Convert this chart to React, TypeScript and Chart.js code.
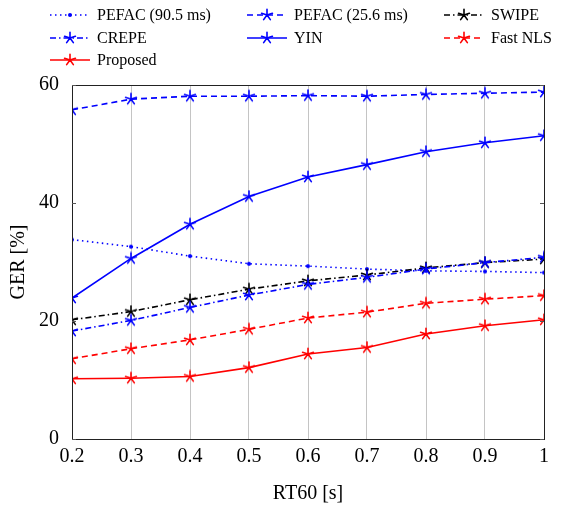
import React, { useEffect, useRef } from "react";
import { Chart, registerables } from "chart.js";

Chart.register(...registerables);

// Reverberation time (s) on the x axis
const rt60 = [0.2, 0.3, 0.4, 0.5, 0.6, 0.7, 0.8, 0.9, 1.0];

// Gross error rate (%) per method
const pefac905 = [33.8, 32.6, 31.0, 29.7, 29.3, 28.8, 28.5, 28.4, 28.2];
const pefac256 = [55.8, 57.6, 58.1, 58.1, 58.2, 58.1, 58.4, 58.6, 58.8];
const swipe = [20.2, 21.6, 23.6, 25.4, 26.8, 27.8, 29.0, 29.9, 30.5];
const crepe = [18.3, 20.1, 22.3, 24.4, 26.2, 27.4, 28.8, 29.9, 30.8];
const yin = [23.9, 30.6, 36.4, 41.1, 44.4, 46.5, 48.7, 50.2, 51.4];
const fastNls = [13.6, 15.3, 16.8, 18.6, 20.5, 21.5, 23.0, 23.7, 24.3];
const proposed = [10.2, 10.3, 10.6, 12.1, 14.4, 15.5, 17.8, 19.2, 20.2];

const yTicks = [0, 20, 40, 60];

const FONT = "'Liberation Serif', 'DejaVu Serif', serif";
const BLUE = "#0000ff";
const RED = "#ff0000";
const BLACK = "#000000";

type Marker = "star" | "dot";

interface SeriesDef {
  label: string;
  values: number[];
  color: string;
  dash: number[];
  marker: Marker;
}

const series: SeriesDef[] = [
  { label: "PEFAC (90.5 ms)", values: pefac905, color: BLUE, dash: [1.5, 3.5], marker: "dot" },
  { label: "PEFAC (25.6 ms)", values: pefac256, color: BLUE, dash: [6, 4], marker: "star" },
  { label: "SWIPE", values: swipe, color: BLACK, dash: [6, 3, 1.5, 3], marker: "star" },
  { label: "CREPE", values: crepe, color: BLUE, dash: [6, 3, 1.5, 3], marker: "star" },
  { label: "YIN", values: yin, color: BLUE, dash: [], marker: "star" },
  { label: "Fast NLS", values: fastNls, color: RED, dash: [6, 4], marker: "star" },
  { label: "Proposed", values: proposed, color: RED, dash: [], marker: "star" },
];

// Five-spoke asterisk marker, as used by pgfplots' "star" mark
function makeStar(color: string): HTMLCanvasElement {
  const size = 14;
  const c = document.createElement("canvas");
  c.width = size;
  c.height = size;
  const ctx = c.getContext("2d")!;
  ctx.strokeStyle = color;
  ctx.lineWidth = 1.6;
  ctx.lineCap = "round";
  const r = 5.7;
  ctx.beginPath();
  for (let i = 0; i < 5; i++) {
    const a = -Math.PI / 2 + (i * 2 * Math.PI) / 5;
    ctx.moveTo(size / 2, size / 2);
    ctx.lineTo(size / 2 + r * Math.cos(a), size / 2 + r * Math.sin(a));
  }
  ctx.stroke();
  return c;
}

function makeDot(color: string): HTMLCanvasElement {
  const size = 8;
  const c = document.createElement("canvas");
  c.width = size;
  c.height = size;
  const ctx = c.getContext("2d")!;
  ctx.fillStyle = color;
  ctx.beginPath();
  ctx.arc(size / 2, size / 2, 2, 0, Math.PI * 2);
  ctx.fill();
  return c;
}

// Legend laid out in three columns above the axes
const legendCols = [50, 247, 444];
const legendRows = [15, 38, 60];
const legendLineLen = 40;

export default function App() {
  const ref = useRef<HTMLCanvasElement | null>(null);

  useEffect(() => {
    const canvas = ref.current;
    if (!canvas) return;

    const markers = series.map((s) => (s.marker === "star" ? makeStar(s.color) : makeDot(s.color)));

    const frameAndLegend = {
      id: "frameAndLegend",
      afterDraw(chart: any) {
        const { ctx, chartArea } = chart;
        const { left, right, top, bottom } = chartArea;
        const yScale = chart.scales.y;
        ctx.save();
        // axis box
        ctx.strokeStyle = "#222";
        ctx.lineWidth = 1;
        ctx.setLineDash([]);
        ctx.strokeRect(left + 0.5, top + 0.5, right - left, bottom - top);
        // inward y ticks on both sides
        ctx.beginPath();
        for (const t of yTicks) {
          const py = Math.round(yScale.getPixelForValue(t)) + 0.5;
          ctx.moveTo(left, py);
          ctx.lineTo(left + 4, py);
          ctx.moveTo(right, py);
          ctx.lineTo(right - 4, py);
        }
        ctx.strokeStyle = "#555";
        ctx.stroke();

        // legend
        ctx.font = `16px ${FONT}`;
        ctx.textBaseline = "middle";
        ctx.fillStyle = "#000";
        series.forEach((s, i) => {
          const col = i % 3;
          const row = Math.floor(i / 3);
          const x0 = legendCols[col];
          const y0 = legendRows[row];
          ctx.strokeStyle = s.color;
          ctx.lineWidth = 1.5;
          ctx.setLineDash(s.dash);
          ctx.beginPath();
          ctx.moveTo(x0, y0);
          ctx.lineTo(x0 + legendLineLen, y0);
          ctx.stroke();
          ctx.setLineDash([]);
          const m = markers[i];
          ctx.drawImage(m, x0 + legendLineLen / 2 - m.width / 2, y0 - m.height / 2);
          ctx.fillText(s.label, x0 + legendLineLen + 7, y0 + 1);
        });
        ctx.restore();
      },
    };

    const chart = new Chart(canvas, {
      type: "line",
      data: {
        datasets: series.map((s, i) => ({
          label: s.label,
          data: rt60.map((x, j) => ({ x, y: s.values[j] })),
          borderColor: s.color,
          backgroundColor: s.color,
          borderWidth: 1.6,
          borderDash: s.dash,
          pointStyle: markers[i] as any,
          pointRadius: 5,
          pointHoverRadius: 5,
          tension: 0,
          fill: false,
          order: series.length - i,
        })),
      },
      options: {
        animation: false,
        responsive: false,
        maintainAspectRatio: false,
        layout: { padding: { top: 85, right: 25, left: 0, bottom: 0 } },
        plugins: {
          legend: { display: false },
          tooltip: { enabled: false },
        },
        scales: {
          x: {
            type: "linear",
            min: 0.2,
            max: 1,
            afterFit: (scale: any) => {
              scale.height = 67;
            },
            ticks: {
              stepSize: 0.1,
              padding: 6,
              color: "#000",
              font: { family: FONT, size: 20 },
              callback: (v: any) => {
                const n = Math.round(Number(v) * 10) / 10;
                return n === 1 ? "1" : n.toFixed(1);
              },
            },
            grid: { color: "#c4c4c4", lineWidth: 1, drawTicks: false },
            border: { display: false },
            title: {
              display: true,
              text: "RT60 [s]",
              color: "#000",
              font: { family: FONT, size: 20 },
              padding: { top: 9, bottom: 0 },
            },
          },
          y: {
            min: 0,
            max: 60,
            afterFit: (scale: any) => {
              scale.width = 72;
            },
            afterBuildTicks: (scale: any) => {
              scale.ticks = yTicks.map((v) => ({ value: v }));
            },
            ticks: {
              padding: 5,
              color: "#000",
              font: { family: FONT, size: 20 },
            },
            grid: { display: false },
            border: { display: false },
            title: {
              display: true,
              text: "GER [%]",
              color: "#000",
              font: { family: FONT, size: 20 },
              padding: { top: 7, bottom: 4 },
            },
          },
        },
      },
      plugins: [frameAndLegend],
    });

    return () => chart.destroy();
  }, []);

  return (
    <div style={{ position: "fixed", left: 0, top: 0, width: 569, height: 506, background: "#fff" }}>
      <canvas ref={ref} width={569} height={506} style={{ width: 569, height: 506 }} />
    </div>
  );
}
